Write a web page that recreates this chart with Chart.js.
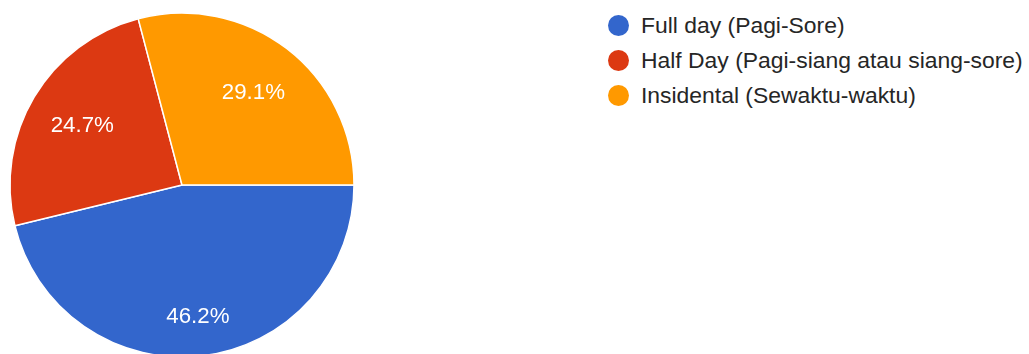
<!DOCTYPE html>
<html>
<head>
<meta charset="utf-8">
<script src="https://cdn.jsdelivr.net/npm/chart.js@4/dist/chart.umd.min.js"></script>
<style>
  html, body { margin: 0; padding: 0; background: #fff; overflow: hidden; width: 1029px; height: 354px; }
  #wrap { position: absolute; left: 0; top: 0; width: 364px; height: 370px; }
  #legend { position: absolute; left: 608px; top: 8px; font-family: "Liberation Sans", Arial, sans-serif; font-size: 22.9px; color: #262626; }
  .item { position: relative; height: 35px; line-height: 35px; white-space: nowrap; }
  .dot { position: absolute; left: 0; top: 7px; width: 21px; height: 21px; border-radius: 50%; }
  .txt { position: absolute; left: 33px; top: 0; }
</style>
</head>
<body>
<div id="wrap"><canvas id="c" width="364" height="370"></canvas></div>
<div id="legend"></div>
<script>
const categories = ["Full day (Pagi-Sore)", "Half Day (Pagi-siang atau siang-sore)", "Insidental (Sewaktu-waktu)"];
const values = [46.2, 24.7, 29.1];
const colors = ["#3366CC", "#DC3912", "#FF9900"];

// legend (real text)
const legend = document.getElementById('legend');
categories.forEach((c, i) => {
  const it = document.createElement('div'); it.className = 'item';
  const d = document.createElement('span'); d.className = 'dot'; d.style.background = colors[i];
  const t = document.createElement('span'); t.className = 'txt'; t.textContent = c;
  it.appendChild(d); it.appendChild(t); legend.appendChild(it);
});

const labelRadius = [0.775, 0.675, 0.68];

const pctLabels = {
  id: 'pctLabels',
  afterDatasetsDraw(chart) {
    const ctx = chart.ctx;
    const meta = chart.getDatasetMeta(0);
    const data = chart.data.datasets[0].data;
    const total = data.reduce((a, b) => a + b, 0);
    ctx.save();
    ctx.font = '22.3px "Liberation Sans", Arial, sans-serif';
    ctx.fillStyle = '#ffffff';
    ctx.textAlign = 'center';
    ctx.textBaseline = 'middle';
    meta.data.forEach((arc, i) => {
      const p = arc.getProps(['x', 'y', 'startAngle', 'endAngle', 'outerRadius'], true);
      const mid = (p.startAngle + p.endAngle) / 2;
      const r = p.outerRadius * labelRadius[i];
      const x = p.x + Math.cos(mid) * r;
      const y = p.y + Math.sin(mid) * r;
      ctx.fillText((data[i] / total * 100).toFixed(1) + '%', x, y);
    });
    ctx.restore();
  }
};

new Chart(document.getElementById('c'), {
  type: 'pie',
  data: {
    labels: categories,
    datasets: [{
      data: values,
      backgroundColor: colors,
      borderColor: '#ffffff',
      borderWidth: 1.5
    }]
  },
  options: {
    responsive: false,
    animation: false,
    rotation: 90,
    layout: { padding: { left: 9.25, right: 9.25, top: 12.25, bottom: 12.25 } },
    plugins: {
      legend: { display: false },
      tooltip: { enabled: false }
    }
  },
  plugins: [pctLabels]
});
</script>
</body>
</html>
